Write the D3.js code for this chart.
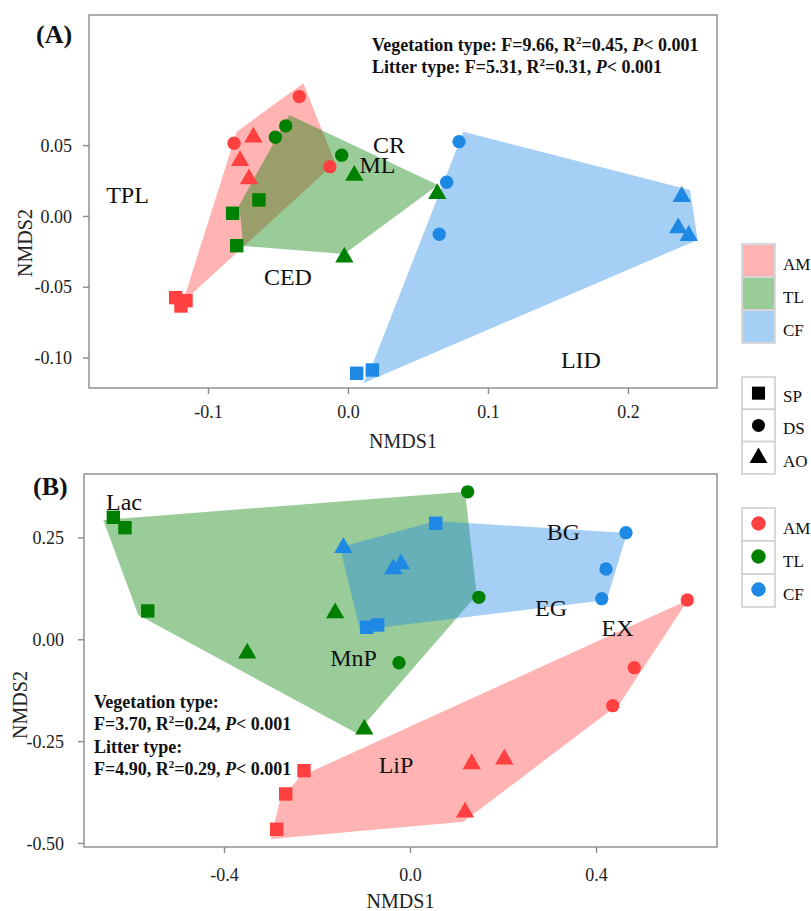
<!DOCTYPE html>
<html><head><meta charset="utf-8">
<script src="https://cdn.jsdelivr.net/npm/d3@7"></script>
<style>
body{margin:0;background:#fff}
text{font-family:"Liberation Serif","Times New Roman",serif}
</style>
</head><body>
<svg id="chart" width="811" height="911"></svg>
<script>
// ---------- shared categories ----------
const vegTypes = ["AM", "TL", "CF"];
const litterTypes = ["SP", "DS", "AO"];
const vegColors = ["#FF4040", "#008000", "#1E88E5"];

// ---------- Panel A data ----------
const aVeg    = ["AM","AM","AM","AM","AM","AM","AM","AM","AM","TL","TL","TL","TL","TL","TL","TL","TL","TL","CF","CF","CF","CF","CF","CF","CF","CF"];
const aLitter = ["DS","DS","DS","AO","AO","AO","SP","SP","SP","DS","DS","DS","AO","AO","AO","SP","SP","SP","DS","DS","DS","AO","AO","AO","SP","SP"];
const aX = [-0.0348,-0.0814,-0.0129,-0.0676,-0.0771,-0.0707,-0.1231,-0.1157,-0.1193,-0.0519,-0.0445,-0.0045,0.0045,-0.0026,0.0638,-0.0824,-0.0636,-0.0795,0.0793,0.0705,0.0652,0.2384,0.2359,0.2434,0.0062,0.0174];
const aY = [0.0843,0.0513,0.0348,0.0556,0.0390,0.0261,-0.0577,-0.0598,-0.0636,0.0556,0.0636,0.0429,0.0285,-0.0292,0.0157,0.0019,0.0113,-0.0210,0.0525,0.0238,-0.0129,0.0136,-0.0085,-0.0139,-0.1111,-0.1088];
const aHullAM = [[-0.0319,0.0937],[-0.0093,0.0374],[-0.1179,-0.0607],[-0.0795,0.0595]];
const aHullTL = [[-0.0419,0.0713],[0.0643,0.0219],[-0.0026,-0.0268],[-0.0748,-0.0212],[-0.0776,0.0078]];
const aHullCF = [[0.0824,0.0595],[0.2443,0.0184],[0.2498,-0.0169],[0.0109,-0.1181],[0.0179,-0.1038]];
const aLabelText = ["TPL","CR","ML","CED","LID"];
const aLabelX = [-0.1575,0.0293,0.0211,-0.0429,0.1664];
const aLabelY = [0.0092,0.0445,0.0304,-0.0487,-0.1073];
const aXTicks = [-0.1, 0.0, 0.1, 0.2];
const aXTickLabels = ["-0.1","0.0","0.1","0.2"];
const aYTicks = [0.05, 0.00, -0.05, -0.10];
const aYTickLabels = ["0.05","0.00","-0.05","-0.10"];
const aStats = [["Vegetation type: F=9.66, R","0.45"],["Litter type: F=5.31, R","0.31"]];

// ---------- Panel B data ----------
const bVeg    = ["AM","AM","AM","AM","AM","AM","AM","AM","AM","TL","TL","TL","TL","TL","TL","TL","TL","TL","CF","CF","CF","CF","CF","CF","CF","CF","CF"];
const bLitter = ["SP","SP","SP","AO","AO","AO","DS","DS","DS","SP","SP","SP","AO","AO","AO","DS","DS","DS","AO","AO","AO","SP","SP","SP","DS","DS","DS"];
const bX = [-0.2280,-0.2673,-0.2867,0.1327,0.2028,0.1183,0.5963,0.4824,0.4359,-0.6380,-0.6130,-0.5640,-0.3500,-0.1610,-0.0983,-0.0237,0.1240,0.1480,-0.1434,-0.0359,-0.0194,-0.0931,-0.0695,0.0553,0.4645,0.4215,0.4123];
const bY = [-0.3226,-0.3798,-0.4665,-0.3060,-0.2946,-0.4248,0.0965,-0.0697,-0.1630,0.2995,0.2740,0.0695,-0.0344,0.0646,-0.2210,-0.0575,0.3620,0.1030,0.2249,0.1726,0.1849,0.0295,0.0351,0.2848,0.2617,0.1726,0.0997];
const bHullAM = [[-0.2996,-0.4903],[-0.2796,-0.3946],[-0.2366,-0.3373],[0.5978,0.0965],[0.4516,-0.1571],[0.1146,-0.4478]];
const bHullTL = [[-0.6596,0.2929],[0.1183,0.3624],[0.1434,0.1088],[-0.1146,-0.2308],[-0.5843,0.0597]];
const bHullCF = [[-0.1505,0.2259],[0.0553,0.2905],[0.4667,0.2610],[0.4230,0.0965],[-0.1075,0.0228]];
const bLabelText = ["Lac","MnP","LiP","BG","EG","EX"];
const bLabelX = [-0.6151,-0.1215,-0.0301,0.3301,0.3032,0.4462];
const bLabelY = [0.3175,-0.0656,-0.3282,0.2438,0.0572,0.0081];
const bXTicks = [-0.4, 0.0, 0.4];
const bXTickLabels = ["-0.4","0.0","0.4"];
const bYTicks = [0.25, 0.00, -0.25, -0.50];
const bYTickLabels = ["0.25","0.00","-0.25","-0.50"];
const bStats = [["Vegetation type:"],["F=3.70, R","0.24"],["Litter type:"],["F=4.90, R","0.29"]];

// ---------- drawing ----------
const svg = d3.select("#chart");
const shapeOf = {SP: d3.symbolSquare, DS: d3.symbolCircle, AO: d3.symbolTriangle};
const sizeOf = {SP: 180, DS: 140, AO: 145};
const colorOf = d3.scaleOrdinal().domain(vegTypes).range(vegColors);
const frameColor = "#8a8a8a";

function statLine(g, x, y, parts) {
  const t = g.append("text").attr("x", x).attr("y", y)
    .attr("font-size", 18).attr("font-weight", "bold").attr("fill", "#111");
  t.append("tspan").text(parts[0]);
  if (parts.length > 1) {
    t.append("tspan").attr("font-size", 11).attr("dy", -7).text("2");
    t.append("tspan").attr("dy", 7).text("=" + parts[1] + ", ");
    t.append("tspan").attr("font-style", "italic").text("P");
    t.append("tspan").text("< 0.001");
  }
}

function drawPanel(cfg) {
  const g = svg.append("g");
  const x = d3.scaleLinear().domain(cfg.xDom).range([cfg.left, cfg.right]);
  const y = d3.scaleLinear().domain(cfg.yDom).range([cfg.bottom, cfg.top]);

  // hulls
  const line = d3.line().x(d => x(d[0])).y(d => y(d[1]));
  cfg.hulls.forEach((h, i) => {
    g.append("path").attr("d", line(h) + "Z")
      .attr("fill", vegColors[i]).attr("fill-opacity", 0.4).attr("stroke", "none");
  });

  // points
  const pts = cfg.px.map((v, i) => ({x: v, y: cfg.py[i], veg: cfg.veg[i], lit: cfg.lit[i]}));
  vegTypes.forEach(vt => {
    g.selectAll(null).data(pts.filter(p => p.veg === vt)).enter().append("path")
      .attr("transform", d => `translate(${x(d.x)},${y(d.y)})`)
      .attr("d", d => d3.symbol().type(shapeOf[d.lit]).size(sizeOf[d.lit])())
      .attr("fill", d => colorOf(d.veg));
  });

  // labels
  cfg.labText.forEach((t, i) => {
    g.append("text").attr("x", x(cfg.labX[i])).attr("y", y(cfg.labY[i]))
      .attr("text-anchor", "middle").attr("font-size", 24).attr("fill", "#111").text(t);
  });

  // frame
  g.append("rect").attr("x", cfg.left).attr("y", cfg.top)
    .attr("width", cfg.right - cfg.left).attr("height", cfg.bottom - cfg.top)
    .attr("fill", "none").attr("stroke", frameColor).attr("stroke-width", 1.4);

  // axes
  const xa = g.append("g").attr("transform", `translate(0,${cfg.bottom})`)
    .call(d3.axisBottom(x).tickValues(cfg.xTicks).tickSize(6).tickSizeOuter(0)
      .tickFormat((d, i) => cfg.xTickLabels[i]));
  xa.select(".domain").remove();
  xa.selectAll("line").attr("stroke", frameColor).attr("stroke-width", 1.4);
  xa.selectAll("text").attr("y", cfg.xLabBase).attr("dy", 0)
    .attr("font-size", 18).attr("fill", "#222").attr("font-family", "Liberation Serif, serif");

  const ya = g.append("g").attr("transform", `translate(${cfg.left},0)`)
    .call(d3.axisLeft(y).tickValues(cfg.yTicks).tickSize(6).tickSizeOuter(0)
      .tickFormat((d, i) => cfg.yTickLabels[i]));
  ya.select(".domain").remove();
  ya.selectAll("line").attr("stroke", frameColor).attr("stroke-width", 1.4);
  ya.selectAll("text").attr("x", cfg.yLabX).attr("dy", "0.34em")
    .attr("font-size", 18).attr("fill", "#222").attr("font-family", "Liberation Serif, serif");

  // axis titles
  g.append("text").attr("x", (cfg.left + cfg.right) / 2).attr("y", cfg.xTitleY)
    .attr("text-anchor", "middle").attr("font-size", 20).attr("fill", "#222").text("NMDS1");
  g.append("text").attr("transform", `translate(${cfg.yTitleX},${cfg.yTitleY}) rotate(-90)`)
    .attr("text-anchor", "middle").attr("font-size", 20).attr("fill", "#222").text("NMDS2");

  // panel tag
  g.append("text").attr("x", cfg.tagX).attr("y", cfg.tagY)
    .attr("font-size", 26).attr("font-weight", "bold").attr("fill", "#111").text(cfg.tag);

  // stats
  cfg.stats.forEach((s, i) => statLine(g, cfg.statX, cfg.statY + i * cfg.statDy, s));
}

drawPanel({
  left: 89, right: 717, top: 15, bottom: 388,
  xDom: [-0.185, 0.2636], yDom: [-0.1215, 0.1419],
  hulls: [aHullAM, aHullTL, aHullCF],
  px: aX, py: aY, veg: aVeg, lit: aLitter,
  labText: aLabelText, labX: aLabelX, labY: aLabelY,
  xTicks: aXTicks, xTickLabels: aXTickLabels, yTicks: aYTicks, yTickLabels: aYTickLabels,
  xLabBase: 30, yLabX: -17, xTitleY: 448, yTitleX: 32, yTitleY: 243,
  tag: "(A)", tagX: 36, tagY: 43,
  stats: aStats, statX: 372, statY: 51, statDy: 22
});

drawPanel({
  left: 84, right: 717, top: 474, bottom: 847,
  xDom: [-0.7011, 0.6602], yDom: [-0.51, 0.4058],
  hulls: [bHullAM, bHullTL, bHullCF],
  px: bX, py: bY, veg: bVeg, lit: bLitter,
  labText: bLabelText, labX: bLabelX, labY: bLabelY,
  xTicks: bXTicks, xTickLabels: bXTickLabels, yTicks: bYTicks, yTickLabels: bYTickLabels,
  xLabBase: 34, yLabX: -20, xTitleY: 908, yTitleX: 27, yTitleY: 705,
  tag: "(B)", tagX: 33, tagY: 495,
  stats: bStats, statX: 94, statY: 708, statDy: 22.4
});

// ---------- legends ----------
const legX = 742, legW = 33, legLabX = 783;
const lg = svg.append("g");
function legendBox(top, rowH, drawKey) {
  vegTypes.forEach((_, i) => {
    const y0 = top + i * rowH;
    lg.append("rect").attr("x", legX).attr("y", y0).attr("width", legW).attr("height", rowH)
      .attr("fill", "#fff").attr("stroke", "#d0d0d0").attr("stroke-width", 1.6);
    drawKey(i, legX + legW / 2, y0 + rowH / 2, y0);
  });
}
// fill legend
legendBox(244, 33, (i, cx, cy, y0) => {
  lg.append("rect").attr("x", legX + 1).attr("y", y0 + 1).attr("width", legW - 2).attr("height", 31)
    .attr("fill", vegColors[i]).attr("fill-opacity", 0.4);
  lg.append("text").attr("x", legLabX).attr("y", cy + 9).attr("font-size", 17).attr("fill", "#111").text(vegTypes[i]);
});
// shape legend
legendBox(377, 32.3, (i, cx, cy) => {
  lg.append("path").attr("transform", `translate(${cx},${cy})`)
    .attr("d", d3.symbol().type(shapeOf[litterTypes[i]]).size(sizeOf[litterTypes[i]] * 0.95)())
    .attr("fill", "#000");
  lg.append("text").attr("x", legLabX).attr("y", cy + 9).attr("font-size", 17).attr("fill", "#111").text(litterTypes[i]);
});
// colour legend
legendBox(508, 33, (i, cx, cy) => {
  lg.append("path").attr("transform", `translate(${cx},${cy - 1})`)
    .attr("d", d3.symbol().type(d3.symbolCircle).size(165)())
    .attr("fill", vegColors[i]);
  lg.append("text").attr("x", legLabX).attr("y", cy + 9).attr("font-size", 17).attr("fill", "#111").text(vegTypes[i]);
});
</script>
</body></html>
